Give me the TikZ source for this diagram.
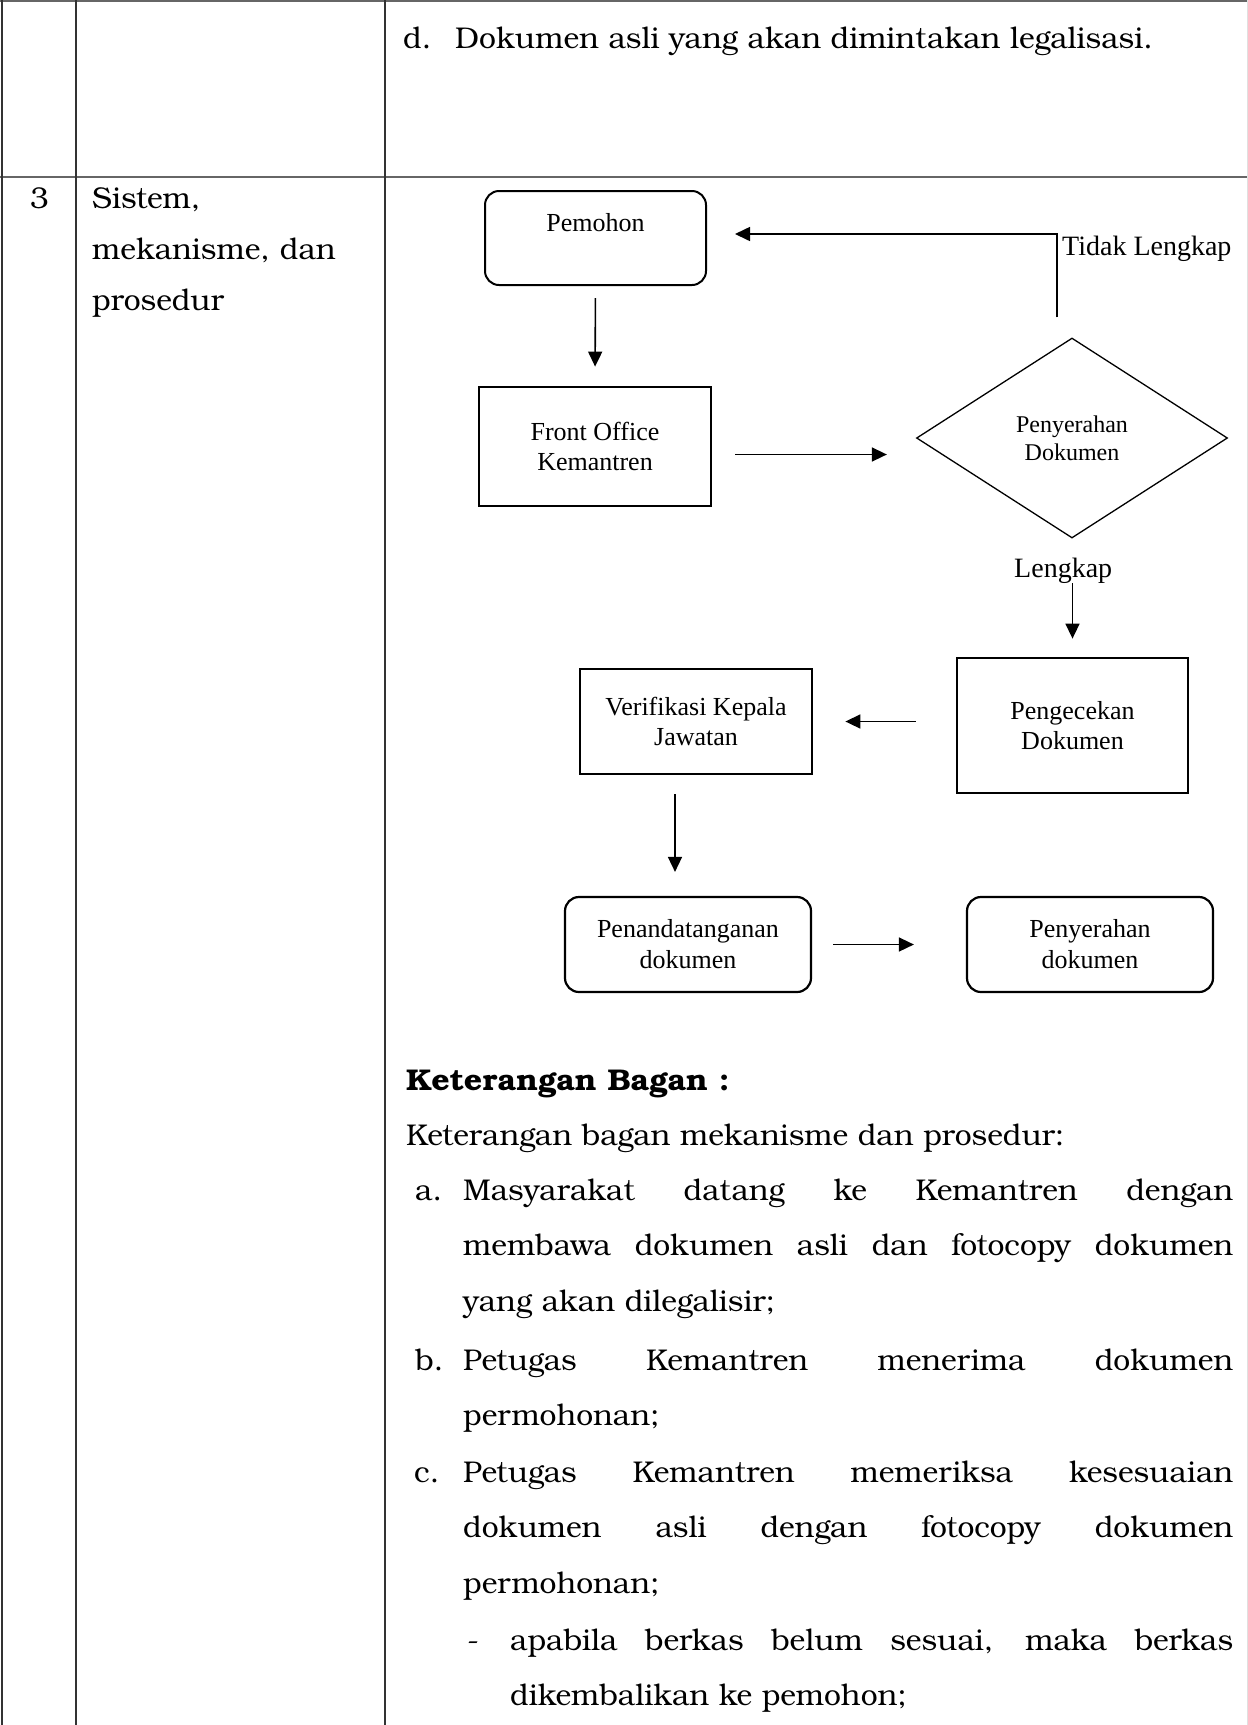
\documentclass[tikz,border=0pt]{standalone}
\usepackage{fontspec}
\setmainfont{texgyrebonum}[Extension=.otf,UprightFont=*-regular,BoldFont=*-bold]
\newfontfamily\tnr{Liberation Serif}
\usetikzlibrary{arrows.meta,positioning,shapes.geometric}
\tolerance=10000
\hyphenpenalty=10000
\tikzset{
  >={Triangle[length=15pt,width=14pt]},
  grid/.style={draw=black!80,line width=1.5pt},
  rule/.style={draw=black!60,line width=2pt},
  rbox/.style={draw,rounded corners=14pt,line width=2pt,minimum width=221pt,minimum height=94pt,
    inner sep=0pt,align=center,font=\tnr\fontsize{26}{31}\selectfont},
  sbox/.style={draw,line width=2.8pt,inner sep=0pt,align=center,font=\tnr\fontsize{26}{30}\selectfont},
  flow/.style={->,line width=1.6pt},
  lbl/.style={font=\tnr\fontsize{28}{32}\selectfont,inner sep=0pt,anchor=base west},
  body/.style={font=\fontsize{30}{55.5}\selectfont,inner sep=0pt,anchor=base west},
  para/.style={body,text width=#1,align=justify},
}
\begin{document}
\begin{tikzpicture}[x=1pt,y=-1pt]
  \useasboundingbox (0,0) rectangle (1248,1725);
  % table
  \draw[rule] (0,1) -- (1248,1);
  \draw[rule] (0,177) -- (1248,177);
  \foreach \x in {2,76,385} \draw[grid] (\x,0) -- (\x,1725);
  \draw[black!12,line width=1pt] (1247,0) -- (1247,1725);
  \node[body] (nod) at (403,48) {d.};
  \node[body] (asli) at (455,48) {Dokumen asli yang akan dimintakan legalisasi.};
  \node[body,anchor=base] (nomor) at (39.5,208) {3};
  \node[body,font=\fontsize{30}{51}\selectfont,text width=285pt,align=left] (aspek) at (92,208)
    {Sistem,\\mekanisme, dan\\prosedur};
  % bagan
  \node[rbox] (pemohon) at (595.5,238) {};
  \node[font=\tnr\fontsize{26}{30}\selectfont,inner sep=0pt,anchor=base] (pemohon-txt) at (595.5,231) {Pemohon};
  \node[sbox,minimum width=232pt,minimum height=119pt] (front) at (595,446.5) {Front Office\\Kemantren};
  \node[draw,diamond,aspect=1.55,line width=1.3pt,minimum width=311pt,minimum height=200pt,inner sep=0pt,
    align=center,font=\tnr\fontsize{24}{28}\selectfont] (serahdok) at (1072,438) {Penyerahan\\Dokumen};
  \node[sbox,minimum width=231pt,minimum height=135pt] (cek) at (1072.5,725.5) {Pengecekan\\Dokumen};
  \node[sbox,minimum width=232pt,minimum height=105pt] (verif) at (696,721.5) {Verifikasi Kepala\\Jawatan};
  \node[rbox,line width=2.2pt,minimum width=246pt,minimum height=95pt] (ttd) at (688,944.5) {Penandatanganan\\dokumen};
  \node[rbox,line width=2.2pt,minimum width=246pt,minimum height=95pt] (serah) at (1090,944.5) {Penyerahan\\dokumen};
  \node[lbl] (tidak) at (1062,255) {Tidak Lengkap};
  \node[lbl] (lengkap) at (1014,577) {Lengkap};

  \draw[flow,shorten <=12pt,shorten >=19pt] (pemohon.south) -- (front.north);
  \coordinate (fo-out) at ([yshift=-8pt]front.east);
  \draw[flow,shorten <=23pt,shorten >=29pt] (fo-out) -- (fo-out -| serahdok.west);
  \coordinate (balik) at ([xshift=-15pt,yshift=20pt]serahdok.north);
  \draw[flow,shorten >=28pt] (balik) |- ([yshift=4pt]pemohon.east);
  \draw[flow,shorten >=18pt] (lengkap.south -| cek.north) -- (cek.north);
  \draw[flow,shorten <=40pt,shorten >=32pt] (verif.east -| cek.west) -- (verif.east);
  \coordinate (verif-out) at ([xshift=-21pt]verif.south);
  \draw[flow,shorten <=19pt,shorten >=24pt] (verif-out) -- (verif-out |- ttd.north);
  \draw[flow,shorten <=21pt,shorten >=52pt] (ttd.east) -- (serah.west);
  % keterangan
  \node[body,font=\bfseries\addfontfeature{FakeStretch=1.07}\fontsize{30}{54}\selectfont] (ket-judul) at (406,1090)
    {Keterangan Bagan :};
  \node[body] (ket) at (406,1145) {Keterangan bagan mekanisme dan prosedur:};
  \node[body] (a) at (415,1200) {a.};
  \node[para=770pt] (ket-a) at (463,1200)
    {Masyarakat datang ke Kemantren dengan\linebreak membawa dokumen asli dan fotocopy dokumen\linebreak yang akan dilegalisir;};
  \node[body] (b) at (415,1370) {b.};
  \node[para=770pt] (ket-b) at (463,1370) {Petugas Kemantren menerima dokumen\linebreak permohonan;};
  \node[body] (c) at (414,1482) {c.};
  \node[para=770pt] (ket-c) at (463,1482)
    {Petugas Kemantren memeriksa kesesuaian\linebreak dokumen asli dengan fotocopy dokumen\linebreak permohonan;};
  \node[body] (strip) at (467,1650) {-};
  \node[para=723pt] (ket-c1) at (510,1650) {apabila berkas belum sesuai, maka berkas\linebreak dikembalikan ke pemohon;};
\end{tikzpicture}
\end{document}
